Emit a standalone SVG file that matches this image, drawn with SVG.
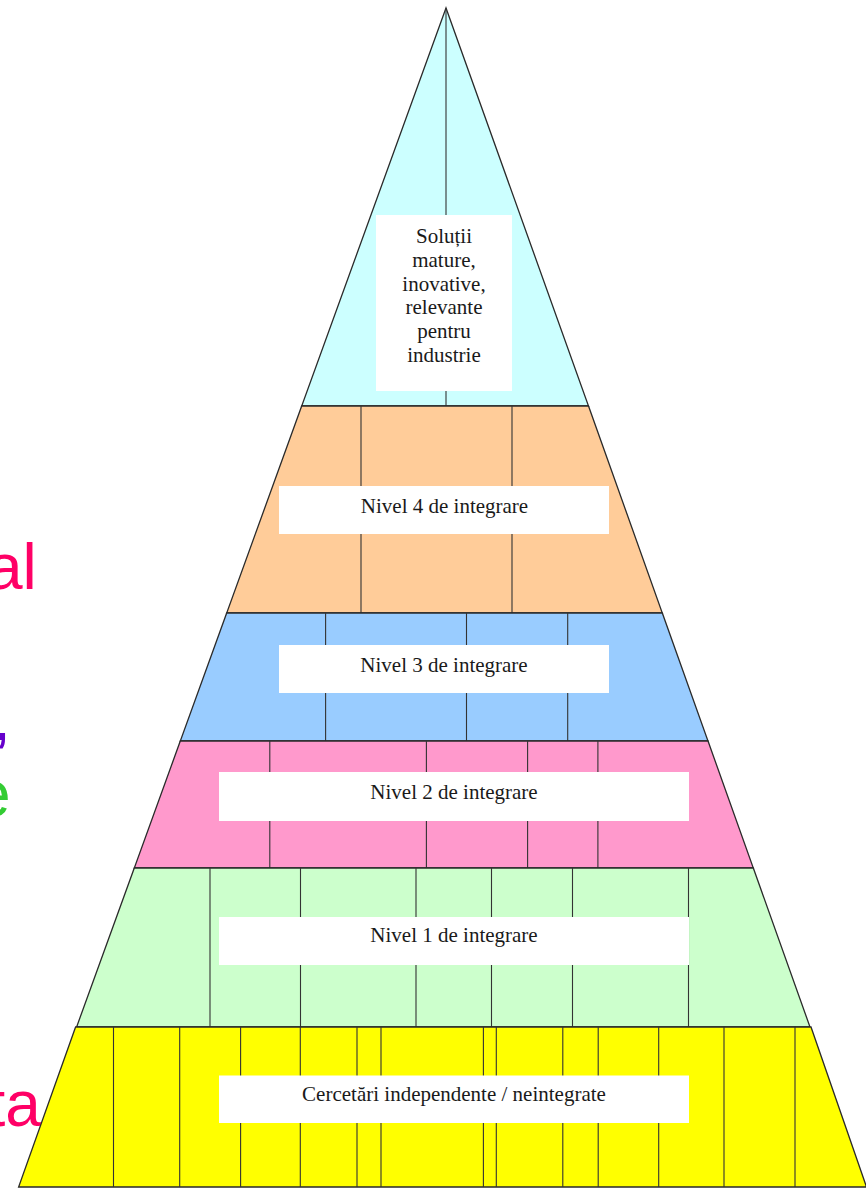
<svg xmlns="http://www.w3.org/2000/svg" width="866" height="1188" viewBox="0 0 866 1188">
<style>
.band{stroke:#2a2a2a;stroke-width:1.3;stroke-linejoin:miter}
.div{stroke:#333;stroke-width:1.1;fill:none}
.box{fill:#ffffff;stroke:none}
.lbl{font-family:"Liberation Serif","Times New Roman",serif;font-size:21px;fill:#1a1a1a;text-anchor:middle}
.side{font-family:"Liberation Sans",Arial,sans-serif;font-size:64px}
</style>
<rect x="0" y="0" width="866" height="1188" fill="#ffffff"/>
<g id="side-text">
<text class="side" x="-13" y="589" fill="#ff0066">al</text>
<text class="side" x="-7" y="740" fill="#6600cc">,</text>
<text class="side" x="-25" y="816" fill="#33cc33">e</text>
<text class="side" x="-12.5" y="1126" fill="#ff0066">ta</text>
</g>
<g id="level-top">
<polygon class="band" points="446,8 301.7,406 588.5,406" fill="#ccffff"/>
<line class="div" x1="446" y1="8" x2="446" y2="406"/>
<rect class="box" x="376" y="215" width="136" height="176"/>
<text class="lbl"><tspan x="444" y="243">Soluții</tspan><tspan x="444" y="266.8">mature,</tspan><tspan x="444" y="290.6">inovative,</tspan><tspan x="444" y="314.4">relevante</tspan><tspan x="444" y="338.2">pentru</tspan><tspan x="444" y="362">industrie</tspan></text>
</g>
<g id="level-4">
<polygon class="band" points="301.7,406 588.5,406 662.3,613 226.7,613" fill="#ffcc99"/>
<path class="div" d="M361,406V613M512,406V613"/>
<rect class="box" x="279" y="486" width="330" height="48"/>
<text class="lbl" x="444.5" y="513">Nivel 4 de integrare</text>
</g>
<g id="level-3">
<polygon class="band" points="226.7,613 662.3,613 708,741 180.3,741" fill="#99ccff"/>
<path class="div" d="M325.6,613V741M466.5,613V741M567.7,613V741"/>
<rect class="box" x="279" y="645" width="330" height="48"/>
<text class="lbl" x="444" y="672">Nivel 3 de integrare</text>
</g>
<g id="level-2">
<polygon class="band" points="180.3,741 708,741 753.3,868 134.3,868" fill="#ff99cc"/>
<path class="div" d="M269.8,741V868M426.4,741V868M527.6,741V868M597.9,741V868"/>
<rect class="box" x="219" y="772" width="470" height="49"/>
<text class="lbl" x="454" y="799">Nivel 2 de integrare</text>
</g>
<g id="level-1">
<polygon class="band" points="134.3,868 753.3,868 810,1027 76.6,1027" fill="#ccffcc"/>
<path class="div" d="M210,868V1027M300.5,868V1027M416,868V1027M491.5,868V1027M572.5,868V1027M688.5,868V1027"/>
<rect class="box" x="219" y="917" width="470" height="48"/>
<text class="lbl" x="454" y="942">Nivel 1 de integrare</text>
</g>
<g id="level-0">
<polygon class="band" points="75.6,1027 811,1027 866.5,1187 18.6,1187" fill="#ffff00"/>
<path class="div" d="M113.5,1027V1187M179.7,1027V1187M240.6,1027V1187M300.3,1027V1187M357,1027V1187M381,1027V1187M483.4,1027V1187M496.3,1027V1187M562.8,1027V1187M598.2,1027V1187M658.7,1027V1187M724,1027V1187M795,1027V1187"/>
<rect class="box" x="219" y="1075.5" width="470" height="47.5"/>
<text class="lbl" x="454" y="1101">Cercetări independente / neintegrate</text>
</g>
</svg>
